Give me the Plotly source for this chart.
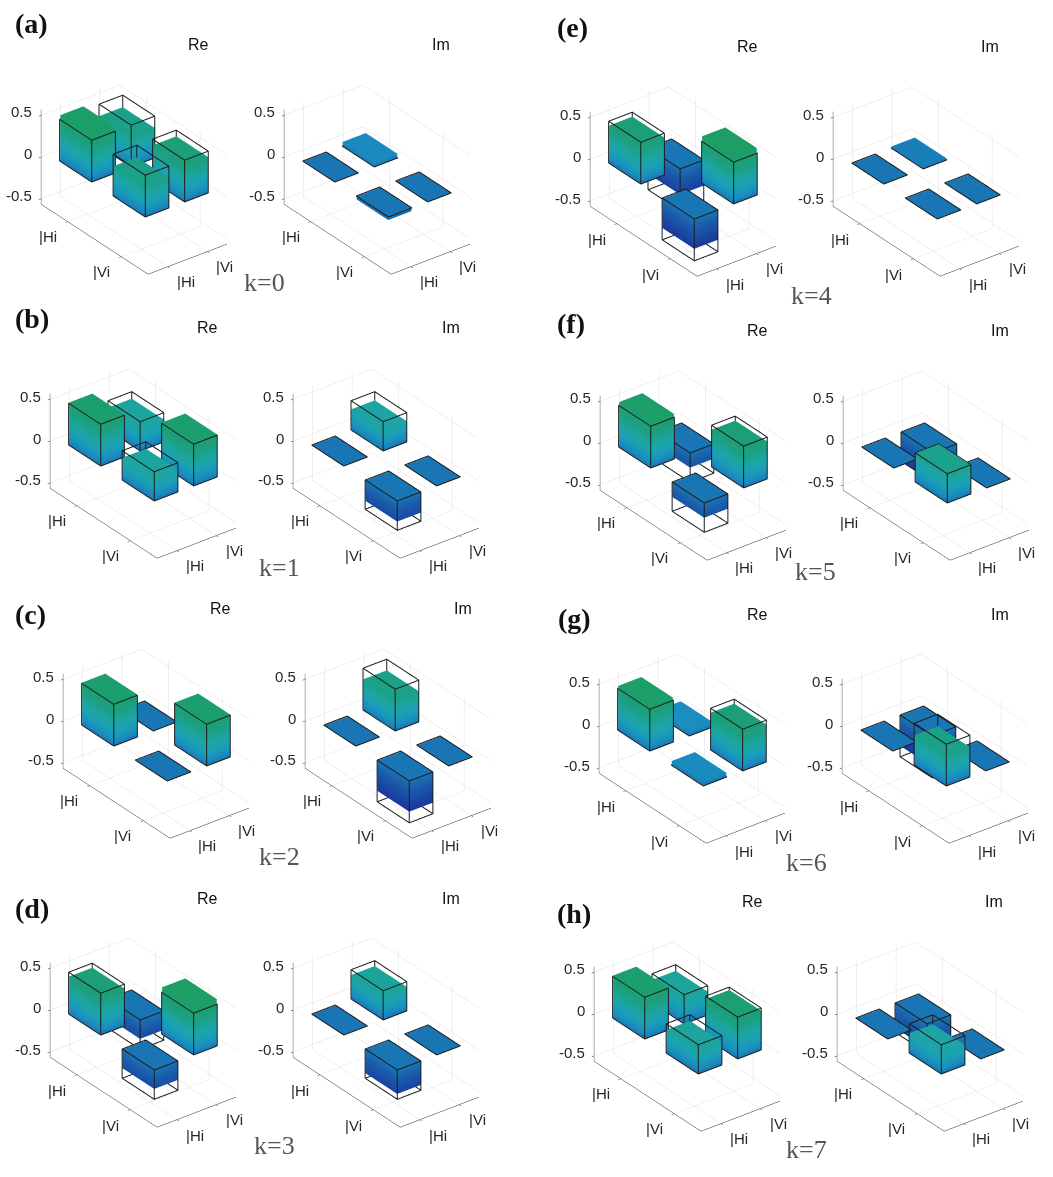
import math
import plotly.graph_objects as go

WIDTH, HEIGHT = 1053, 1177

STATES = ["|Hi", "|Vi"]
Z_TICKS = [-0.5, 0, 0.5]
Z_LABELS = ["-0.5", "0", "0.5"]
LETTERS = ["(a)", "(b)", "(c)", "(d)", "(e)", "(f)", "(g)", "(h)"]

# Density-matrix elements in the order HH, HV, VH, VV for k = 0..7.
IDEAL_RE = [
    [0.5, 0.5, 0.5, 0.5],
    [0.5, 0.35, 0.35, 0.5],
    [0.5, 0.0, 0.0, 0.5],
    [0.5, -0.35, -0.35, 0.5],
    [0.5, -0.5, -0.5, 0.5],
    [0.5, -0.35, -0.35, 0.5],
    [0.5, 0.0, 0.0, 0.5],
    [0.5, 0.35, 0.35, 0.5],
]
IDEAL_IM = [
    [0, 0, 0, 0],
    [0, 0.35, -0.35, 0],
    [0, 0.5, -0.5, 0],
    [0, 0.35, -0.35, 0],
    [0, 0, 0, 0],
    [0, -0.35, 0.35, 0],
    [0, -0.5, 0.5, 0],
    [0, -0.35, 0.35, 0],
]
MEASURED_RE = [
    [0.55, 0.36, 0.36, 0.43],
    [0.51, 0.27, 0.27, 0.51],
    [0.51, 0.0, 0.0, 0.51],
    [0.45, -0.23, -0.23, 0.56],
    [0.45, -0.31, -0.36, 0.56],
    [0.54, -0.18, -0.18, 0.45],
    [0.53, 0.06, 0.05, 0.45],
    [0.51, 0.28, 0.28, 0.47],
]
MEASURED_IM = [
    [0.0, 0.05, -0.04, 0.0],
    [0.0, 0.25, -0.25, 0.0],
    [0.0, 0.37, -0.37, 0.0],
    [0.0, 0.29, -0.29, 0.0],
    [0.0, 0.02, -0.01, 0.0],
    [0.0, -0.35, 0.35, 0.0],
    [0.0, -0.37, 0.36, 0.0],
    [0.0, -0.3, 0.24, 0.0],
]

# Panel placement: pixel position of the z axis (Re and Im) and of its zero tick.
AXIS_X_RE = [41.5, 51, 63.3, 51, 591, 600.3, 600, 594.7]
AXIS_X_IM = [284.5, 294, 306, 294, 833.7, 843.3, 842.7, 837.3]
AXIS_Y0 = [155.5, 440, 720, 1009.3, 158.3, 441.7, 725.3, 1012.7]
RE_TITLE_POS = [(198, 44), (207, 328), (220, 608), (207, 898), (747, 47), (757, 330), (757, 614), (752, 901)]
IM_TITLE_POS = [(441, 44), (451, 328), (463, 608), (451, 898), (990, 47), (1000, 330), (1000, 614), (994, 901)]
LETTER_POS = [(13, 23), (13, 318), (13, 614), (13, 908), (555, 28), (555, 323), (556, 618), (555, 913)]
K_POS = [(264, 283), (279, 567), (279, 856), (275, 1145), (811, 295), (815, 571), (806, 862), (806, 1149)]

BAR_COLORS = [
    [0.0, "#182a90"], [0.136, "#1a3a9e"], [0.364, "#1a60ac"], [0.4545, "#1a76b4"],
    [0.5, "#1a8cbf"], [0.591, "#1a9fb8"], [0.682, "#1ca5a4"], [0.818, "#1ca080"], [1.0, "#1c9e60"],
]
X_RANGE = [0.5, 2.5]
Z_RANGE = [-0.565, 0.565]
BAR_HALF = 0.3
INSET = 0.006
SINK = 0.004
SCENE_W, SCENE_H = 232, 232
CENTER_DX, CENTER_DY = 92.25, 21
ASPECT = dict(x=1.519, y=0.855, z=0.94)
THETA, PHI = math.radians(52.6), math.radians(30)
EYE_NORM = 2.0
EYE = dict(
    x=EYE_NORM * math.sin(THETA) * math.cos(PHI),
    y=-EYE_NORM * math.cos(THETA) * math.cos(PHI),
    z=EYE_NORM * math.sin(PHI),
)
CENTERS = [(1, 1), (1, 2), (2, 1), (2, 2)]
INK = "#262626"


def solid_bars(values):
    """One mesh holding a filled box from just under z = 0 to each value."""
    xs, ys, zs, i, j, k = [], [], [], [], [], []
    hw = BAR_HALF - INSET
    for (cx, cy), v in zip(CENTERS, values):
        n = len(xs)
        end = v if abs(v) > SINK else -SINK
        for z in (-SINK, end):
            for dx, dy in ((-hw, -hw), (hw, -hw), (hw, hw), (-hw, hw)):
                xs.append(cx + dx)
                ys.append(cy + dy)
                zs.append(z)
        quads = [(0, 1, 2, 3), (4, 5, 6, 7), (0, 1, 5, 4), (1, 2, 6, 5), (2, 3, 7, 6), (3, 0, 4, 7)]
        for a, b, c, d in quads:
            i += [n + a, n + a]
            j += [n + b, n + c]
            k += [n + c, n + d]
    return go.Mesh3d(
        x=xs, y=ys, z=zs, i=i, j=j, k=k, intensity=zs, colorscale=BAR_COLORS,
        cmin=-0.5, cmax=0.6, showscale=False, flatshading=False, hoverinfo="skip",
        lighting=dict(ambient=1, diffuse=0, specular=0, roughness=1, fresnel=0),
    )


def wire_bars(values):
    """Black outline of the box belonging to each value."""
    xs, ys, zs = [], [], []
    hw = BAR_HALF
    for (cx, cy), v in zip(CENTERS, values):
        corners = ((-hw, -hw), (hw, -hw), (hw, hw), (-hw, hw))
        for z in (0, v):
            for dx, dy in corners + corners[:1]:
                xs.append(cx + dx)
                ys.append(cy + dy)
                zs.append(z)
            xs.append(None)
            ys.append(None)
            zs.append(None)
        for dx, dy in corners:
            xs += [cx + dx, cx + dx, None]
            ys += [cy + dy, cy + dy, None]
            zs += [0, v, None]
    return go.Scatter3d(
        x=xs, y=ys, z=zs, mode="lines", line=dict(color="#1c1c1c", width=2),
        hoverinfo="skip", showlegend=False,
    )


def tick_note(x, y, z, text, dx, dy, anchor="center"):
    return dict(
        x=x, y=y, z=z, text=text, showarrow=False, xanchor=anchor, yanchor="middle",
        xshift=dx, yshift=dy, font=dict(family="Liberation Sans", size=15, color=INK),
    )


def scene_layout(ax_x, y0):
    cx = ax_x + CENTER_DX
    cy = y0 + CENTER_DY
    common = dict(
        showbackground=False, showgrid=True, gridcolor="#e0e0e0", gridwidth=1,
        zeroline=False, showline=True, linecolor=INK, linewidth=1,
        ticks="outside", ticklen=3, tickcolor=INK, showspikes=False, title="",
        showticklabels=False,
    )
    notes = [tick_note(X_RANGE[0], X_RANGE[0], v, t, -7, 3, "right") for v, t in zip(Z_TICKS, Z_LABELS)]
    notes += [tick_note(v, X_RANGE[0], Z_RANGE[0], t, -20, -15) for v, t in zip([1, 2], STATES)]
    notes += [tick_note(X_RANGE[1], v, Z_RANGE[0], t, 18, -15) for v, t in zip([1, 2], STATES)]
    return dict(
        domain=dict(
            x=[(cx - SCENE_W / 2) / WIDTH, (cx + SCENE_W / 2) / WIDTH],
            y=[1 - (cy + SCENE_H / 2) / HEIGHT, 1 - (cy - SCENE_H / 2) / HEIGHT],
        ),
        aspectmode="manual",
        aspectratio=ASPECT,
        camera=dict(
            eye=EYE, up=dict(x=0, y=0, z=1), center=dict(x=0, y=0, z=0),
            projection=dict(type="orthographic"),
        ),
        xaxis=dict(common, range=X_RANGE, tickvals=[1, 2], ticktext=STATES),
        yaxis=dict(common, range=X_RANGE, tickvals=[1, 2], ticktext=STATES),
        zaxis=dict(common, range=Z_RANGE, tickvals=Z_TICKS, ticktext=Z_LABELS),
        annotations=notes,
    )


fig = go.Figure()
layout = {}
annotations = []


def pixel_text(text, x, y, size, family, anchor="center", bold=False, color="#111111"):
    annotations.append(dict(
        text=f"<b>{text}</b>" if bold else text, x=x / WIDTH, y=1 - y / HEIGHT,
        xref="paper", yref="paper", xanchor=anchor, yanchor="middle", showarrow=False,
        font=dict(family=family, size=size, color=color),
    ))


for p in range(8):
    panels = [
        (MEASURED_RE[p], IDEAL_RE[p], AXIS_X_RE[p], RE_TITLE_POS[p], "Re"),
        (MEASURED_IM[p], IDEAL_IM[p], AXIS_X_IM[p], IM_TITLE_POS[p], "Im"),
    ]
    for q, (measured, ideal, ax_x, title_pos, title) in enumerate(panels):
        idx = 2 * p + q + 1
        name = "scene" if idx == 1 else f"scene{idx}"
        mesh = solid_bars(measured)
        mesh.scene = name
        wire = wire_bars(ideal)
        wire.scene = name
        fig.add_trace(mesh)
        fig.add_trace(wire)
        layout[name] = scene_layout(ax_x, AXIS_Y0[p])
        pixel_text(title, title_pos[0], title_pos[1], 16, "Liberation Sans")
    pixel_text(LETTERS[p], LETTER_POS[p][0], LETTER_POS[p][1], 28, "Liberation Serif", anchor="left", bold=True)
    pixel_text(f"k={p}", K_POS[p][0], K_POS[p][1], 26, "Liberation Serif", color="#555555")

fig.update_layout(
    width=WIDTH, height=HEIGHT, margin=dict(l=0, r=0, t=0, b=0), autosize=False,
    paper_bgcolor="white", showlegend=False, annotations=annotations, **layout,
)
fig.write_html("out.html")
